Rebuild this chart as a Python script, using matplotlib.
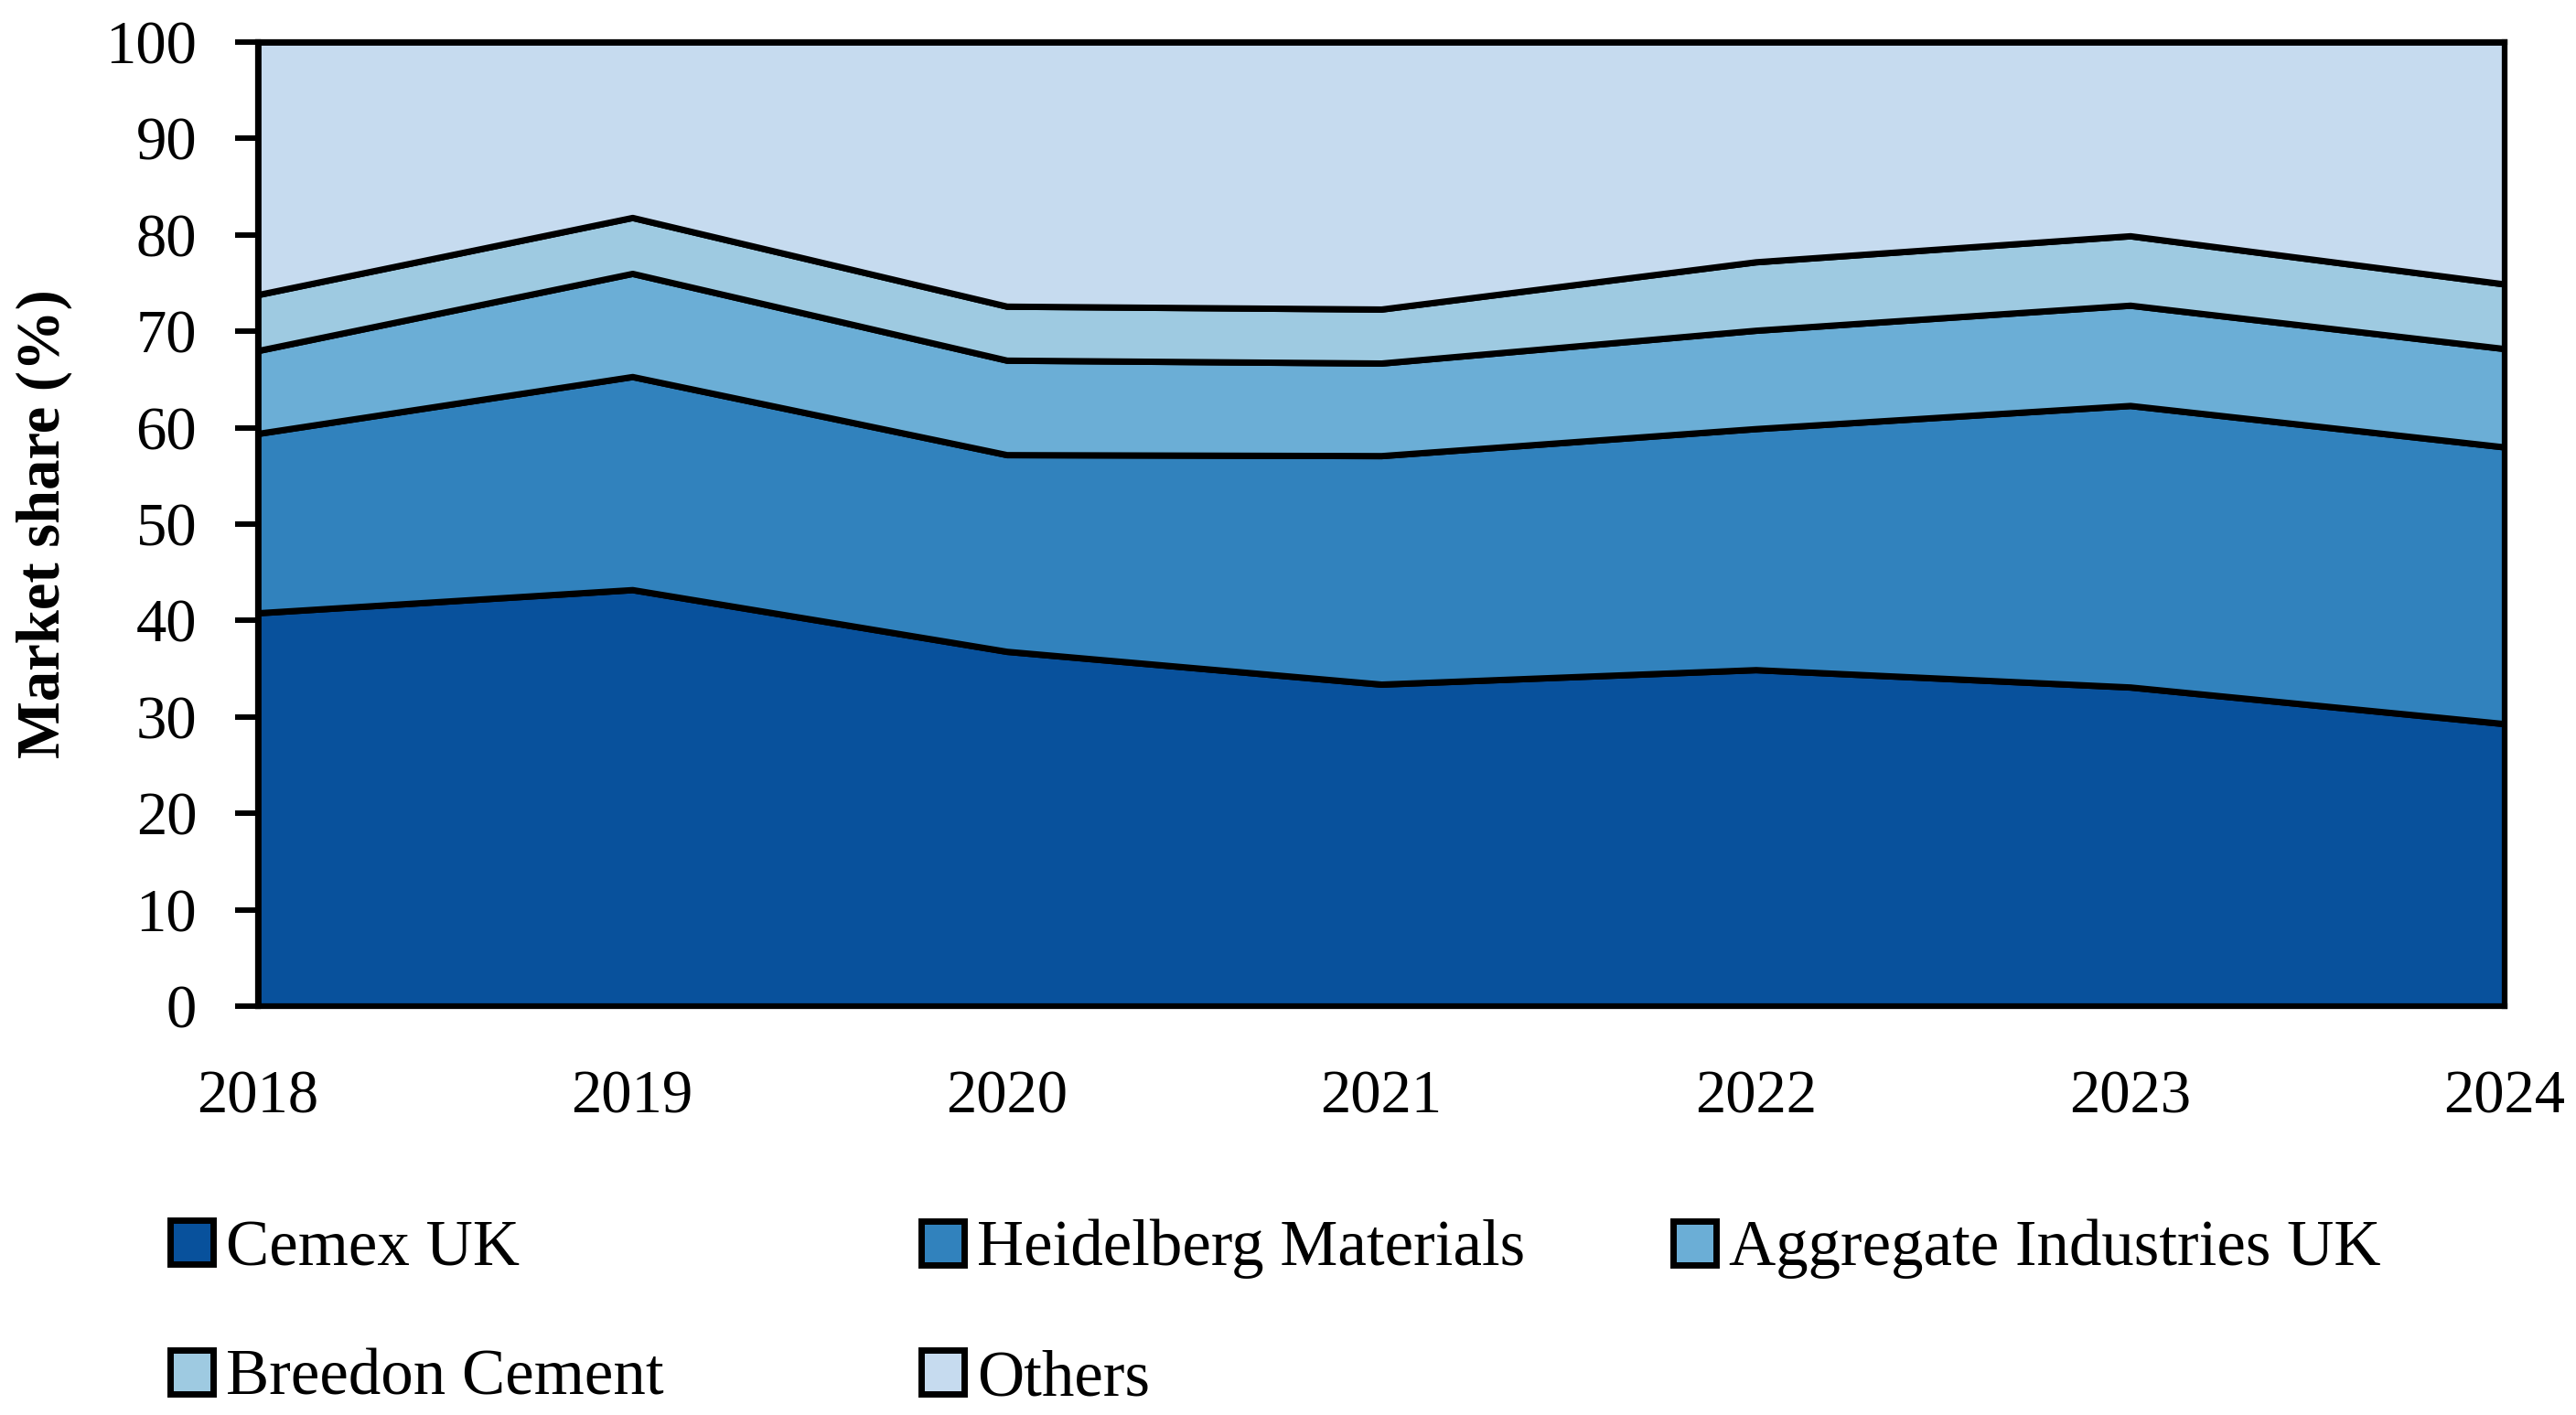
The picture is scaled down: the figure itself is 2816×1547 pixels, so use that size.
import numpy as np
import matplotlib
matplotlib.use("Agg")
import matplotlib.pyplot as plt

plt.rcParams['font.family'] = ['Liberation Serif', 'DejaVu Serif']

# market shares (%)
years = [2018, 2019, 2020, 2021, 2022, 2023, 2024]
cemex = [40.8, 43.2, 36.8, 33.4, 34.9, 33.1, 29.3]
heidelberg = [18.6, 22.1, 20.4, 23.7, 25.0, 29.2, 28.7]
aggregate = [8.6, 10.7, 9.8, 9.6, 10.2, 10.4, 10.2]
breedon = [5.8, 5.8, 5.6, 5.6, 7.1, 7.2, 6.7]
others = [26.2, 18.2, 27.4, 27.7, 22.8, 20.1, 25.1]

names = ["Cemex UK", "Heidelberg Materials", "Aggregate Industries UK",
         "Breedon Cement", "Others"]
colors = ["#08519c", "#3182bd", "#6baed6", "#9ecae1", "#c6dbef"]

fig = plt.figure(figsize=(28.16, 15.47), dpi=100)
ax = fig.add_axes([0.1001, 0.2889, 0.8722, 0.6814])

polys = ax.stackplot(years, cemex, heidelberg, aggregate, breedon, others,
                     colors=colors, labels=names, edgecolor="black", linewidth=5)

ax.set_xlim(2018, 2024)
ax.set_ylim(0, 100)
ax.set_yticks(np.arange(0, 101, 10))
ax.set_xticks(years)

for s in ax.spines.values():
    s.set_linewidth(4.5)
    s.set_zorder(5)

ax.tick_params(axis="y", direction="out", length=18, width=4.3, pad=30, labelsize=48)
ax.tick_params(axis="x", length=0, pad=50, labelsize=48)

fig.text(48 / 2816, 0.63, "Market share (%)", rotation=90, ha="center", va="center",
         fontsize=48, fontweight="bold")

# legend laid out in three fixed columns
cols = [[0, 3], [1, 4], [2]]
xs = [186, 1007, 1829]
for col, x in zip(cols, xs):
    leg = fig.legend([polys[i] for i in col], [names[i] for i in col],
                     loc="upper left", bbox_to_anchor=(x / 2816, 1 - 1333 / 1547),
                     frameon=False, fontsize=51, handlelength=0.66, handleheight=0.66,
                     handletextpad=0.2, labelspacing=1.08, borderpad=0, borderaxespad=0)

fig.savefig("out.png", dpi=100)
